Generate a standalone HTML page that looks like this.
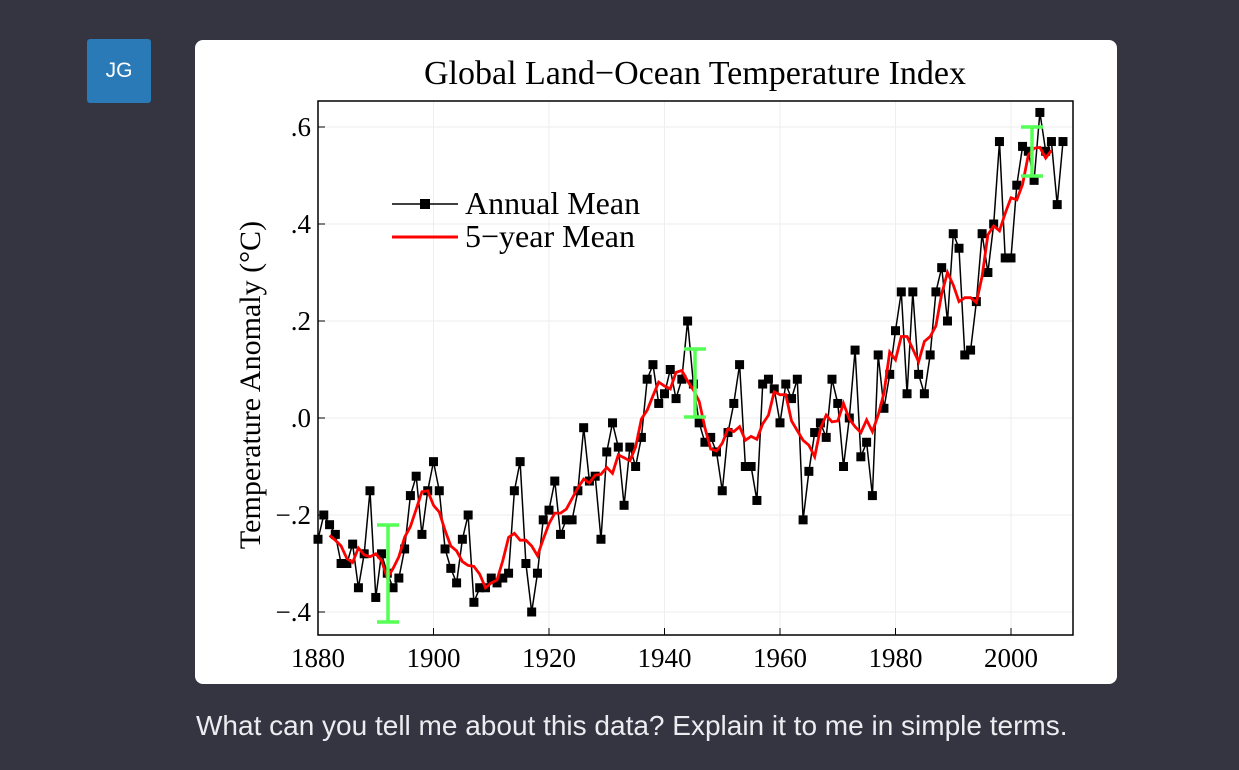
<!DOCTYPE html>
<html><head><meta charset="utf-8"><style>
html,body{margin:0;padding:0;background:#343541;width:1239px;height:770px;overflow:hidden}
.av{position:absolute;left:87px;top:39px;width:64px;height:64px;background:#2a7ab8;border-radius:3px;color:#fff;font:21px "Liberation Sans",sans-serif;display:flex;align-items:center;justify-content:center}
.card{position:absolute;left:195px;top:40px;width:922px;height:644px;background:#fff;border-radius:8px}
.q{position:absolute;left:196px;top:710px;color:#ececf1;font:28px "Liberation Sans",sans-serif;white-space:nowrap}
svg{position:absolute;left:0;top:0}
</style></head><body>
<div class="av">JG</div>
<div class="card"></div>
<svg width="1239" height="770" id="s" font-family="Liberation Serif, serif">
<text x="695" y="84" text-anchor="middle" font-size="34">Global Land−Ocean Temperature Index</text>
<g id="grid" stroke="#eee" stroke-width="1"></g>
<rect x="318" y="101" width="755" height="534" fill="none" stroke="#000" stroke-width="1.5"/>
<g id="ticks" font-size="27"></g>
<text transform="translate(260,385) rotate(-90)" text-anchor="middle" font-size="30">Temperature Anomaly (°C)</text>
<line x1="392" y1="204" x2="458" y2="204" stroke="#000" stroke-width="1.5"/>
<rect x="420" y="199" width="10" height="10" fill="#000"/>
<text x="465" y="214" font-size="32">Annual Mean</text>
<line x1="392" y1="237" x2="458" y2="237" stroke="#f00" stroke-width="3"/>
<text x="465" y="247" font-size="32">5−year Mean</text>
<g id="data"></g>
<g stroke="#5f5" stroke-width="3.5">
<line x1="388" y1="525" x2="388" y2="622"/><line x1="377" y1="525" x2="399" y2="525"/><line x1="377" y1="622" x2="399" y2="622"/>
<line x1="695" y1="349" x2="695" y2="417"/><line x1="684" y1="349" x2="706" y2="349"/><line x1="684" y1="417" x2="706" y2="417"/>
<line x1="1032" y1="127" x2="1032" y2="176"/><line x1="1021" y1="127" x2="1043" y2="127"/><line x1="1021" y1="176" x2="1043" y2="176"/>
</g>
</svg>
<div class="q">What can you tell me about this data? Explain it to me in simple terms.</div>
<script>
var v=[-.25,-.20,-.22,-.24,-.30,-.30,-.26,-.35,-.28,-.15,-.37,-.28,-.32,-.35,-.33,-.27,-.16,-.12,-.24,-.15,-.09,-.15,-.27,-.31,-.34,-.25,-.20,-.38,-.35,-.35,-.33,-.34,-.33,-.32,-.15,-.09,-.30,-.40,-.32,-.21,-.19,-.13,-.24,-.21,-.21,-.15,-.02,-.13,-.12,-.25,-.07,-.01,-.06,-.18,-.06,-.10,-.04,.08,.11,.03,.05,.10,.04,.08,.20,.07,-.01,-.05,-.04,-.07,-.15,-.03,.03,.11,-.10,-.10,-.17,.07,.08,.06,-.01,.07,.04,.08,-.21,-.11,-.03,-.01,-.04,.08,.03,-.10,.00,.14,-.08,-.05,-.16,.13,.02,.09,.18,.26,.05,.26,.09,.05,.13,.26,.31,.20,.38,.35,.13,.14,.24,.38,.30,.40,.57,.33,.33,.48,.56,.55,.49,.63,.55,.57,.44,.57];
function X(y){return 318+(y-1880)*5.775}function Y(t){return 418-t*485}
var ns="http://www.w3.org/2000/svg",g=document.getElementById('grid'),tk=document.getElementById('ticks'),d=document.getElementById('data');
function el(p,n,a,t){var e=document.createElementNS(ns,n);for(var k in a)e.setAttribute(k,a[k]);if(t)e.textContent=t;p.appendChild(e);return e}
for(var y=1880;y<=2000;y+=20){var x=X(y);el(g,'line',{x1:x,y1:101,x2:x,y2:635});el(tk,'line',{x1:x,y1:635,x2:x,y2:628,stroke:'#000'});el(tk,'text',{x:x,y:667,'text-anchor':'middle'},String(y))}
var lab={"-0.4":"−.4","-0.2":"−.2","0":".0","0.2":".2","0.4":".4","0.6":".6"};
[-0.4,-0.2,0,0.2,0.4,0.6].forEach(function(t){var yy=Y(t);el(g,'line',{x1:318,y1:yy,x2:1073,y2:yy});el(tk,'line',{x1:318,y1:yy,x2:325,y2:yy,stroke:'#000'});el(tk,'text',{x:311,y:yy+9,'text-anchor':'end'},lab[String(t)])});
var p=v.map(function(t,i){return X(1880+i).toFixed(1)+','+Y(t).toFixed(1)}).join(' ');
el(d,'polyline',{points:p,fill:'none',stroke:'#000','stroke-width':1.5});
v.forEach(function(t,i){el(d,'rect',{x:X(1880+i)-4.5,y:Y(t)-4.5,width:9,height:9,fill:'#000'})});
var m=[];for(var i=2;i<v.length-2;i++){var s=0;for(var j=-2;j<=2;j++)s+=v[i+j];m.push(X(1880+i).toFixed(1)+','+Y(s/5).toFixed(1))}
el(d,'polyline',{points:m.join(' '),fill:'none',stroke:'#f00','stroke-width':2.8});
</script>
</body></html>
